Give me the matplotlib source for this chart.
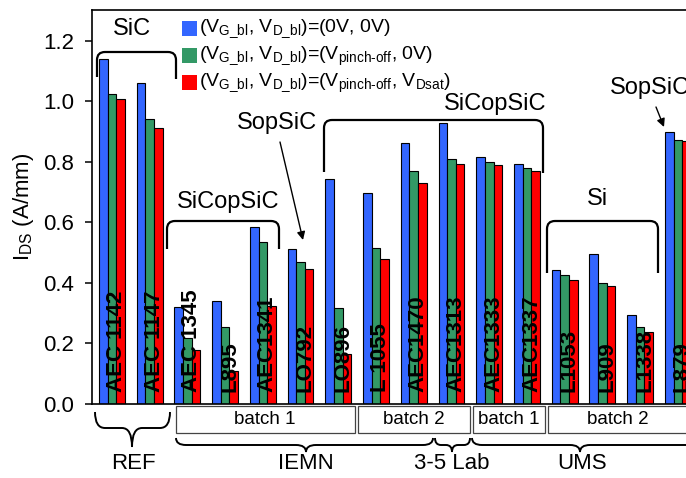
import numpy as np
import matplotlib
matplotlib.use("Agg")
import matplotlib.pyplot as plt
from matplotlib.patches import Rectangle, PathPatch
from matplotlib.path import Path
from matplotlib.transforms import Affine2D
from matplotlib import font_manager

# drain current per device for the three bias conditions
devices = ["AEC 1142", "AEC 1147", "AEC 1345", "L895", "AEC1341", "LO792", "LO896", "L 1055",
           "AEC1470", "AEC1313", "AEC1333", "AEC1337", "L1053", "L909", "L1338", "L879"]
ids_00 = [1.14, 1.06, 0.32, 0.34, 0.586, 0.511, 0.745, 0.698, 0.864, 0.928, 0.815, 0.793,
          0.442, 0.496, 0.294, 0.90]
ids_p0 = [1.025, 0.941, 0.217, 0.253, 0.534, 0.47, 0.316, 0.515, 0.769, 0.811, 0.80, 0.779,
          0.425, 0.40, 0.256, 0.873]
ids_ps = [1.009, 0.911, 0.18, 0.11, 0.324, 0.445, 0.164, 0.479, 0.731, 0.793, 0.79, 0.77,
          0.41, 0.391, 0.239, 0.870]

series_labels = [r"(V$_{\mathrm{G\_bl}}$, V$_{\mathrm{D\_bl}}$)=(0V, 0V)",
                 r"(V$_{\mathrm{G\_bl}}$, V$_{\mathrm{D\_bl}}$)=(V$_{\mathrm{pinch\text{-}off}}$, 0V)",
                 r"(V$_{\mathrm{G\_bl}}$, V$_{\mathrm{D\_bl}}$)=(V$_{\mathrm{pinch\text{-}off}}$, V$_{\mathrm{Dsat}}$)"]
colors = ["#3366FF", "#339966", "#FF0000"]

plt.rcParams["font.family"] = "Liberation Sans"
plt.rcParams["mathtext.fontset"] = "custom"
plt.rcParams["mathtext.rm"] = "Liberation Sans"
plt.rcParams["mathtext.it"] = "Liberation Sans:italic"

names = {f.name for f in font_manager.fontManager.ttflist}
narrow = "Liberation Sans Narrow" if "Liberation Sans Narrow" in names else "Liberation Sans"

fig = plt.figure(figsize=(6.86, 4.78), dpi=100)
ax = fig.add_axes([92 / 686, 74 / 478, 594 / 686, 394 / 478])
# pixel coordinates, origin at the top-left corner of the image
T = Affine2D().scale(1 / 686, -1 / 478).translate(0, 1) + fig.transFigure

w = 0.228
x = np.arange(len(devices))
for k, (vals, c) in enumerate(zip([ids_00, ids_p0, ids_ps], colors)):
    ax.bar(x + (k - 1) * w, vals, w, color=c, edgecolor="black", linewidth=0.8, zorder=2)

for i, name in enumerate(devices):
    ax.text(i + 0.12, 0.04, name, rotation=90, ha="center", va="bottom", fontsize=16,
            fontweight="bold", zorder=3)

ax.set_xlim(-0.528, 15.216)
ax.set_ylim(0, 1.302)
ax.set_yticks(np.arange(0, 1.21, 0.2))
ax.set_yticklabels(["%.1f" % v for v in np.arange(0, 1.21, 0.2)])
ax.set_xticks([])
ax.tick_params(axis="y", direction="out", length=5, width=1.1, labelsize=16, pad=8)
ax.spines["right"].set_visible(False)
for s in ["left", "top", "bottom"]:
    ax.spines[s].set_linewidth(1.2)

fig.text(24, 207, r"I$_{\mathrm{DS}}$ (A/mm)", transform=T, rotation=90, ha="center",
         va="center", fontsize=16)

# legend
for r, (lab, c) in enumerate(zip(series_labels, colors)):
    fig.patches.append(Rectangle((182, 21 + 27 * r), 15, 15, transform=T, facecolor=c,
                                 edgecolor="none"))
    fig.text(199, 32 + 27 * r, lab, transform=T, ha="left", va="baseline", fontsize=14)


def bracket(x0, x1, ytop, yb0, yb1, r=8):
    verts = [(x0, yb0), (x0, ytop + r), (x0, ytop), (x0 + r, ytop), (x1 - r, ytop),
             (x1, ytop), (x1, ytop + r), (x1, yb1)]
    codes = [Path.MOVETO, Path.LINETO, Path.CURVE3, Path.CURVE3, Path.LINETO,
             Path.CURVE3, Path.CURVE3, Path.LINETO]
    fig.patches.append(PathPatch(Path(verts, codes), transform=T, fill=False, lw=1.6,
                                 edgecolor="black"))


def brace(x0, x1, xc, ytop, ymid, ytip, q=10):
    verts = [(x0, ytop), (x0, ymid), (x0 + q, ymid), (xc - q, ymid), (xc, ymid), (xc, ytip),
             (xc, ymid), (xc + q, ymid), (x1 - q, ymid), (x1, ymid), (x1, ytop)]
    codes = [Path.MOVETO, Path.CURVE3, Path.CURVE3, Path.LINETO, Path.CURVE3, Path.CURVE3,
             Path.CURVE3, Path.CURVE3, Path.LINETO, Path.CURVE3, Path.CURVE3]
    fig.patches.append(PathPatch(Path(verts, codes), transform=T, fill=False, lw=1.4,
                                 edgecolor="black"))


# material groups above the bars
bracket(97, 176, 52, 77, 79)
fig.text(132, 29, "SiC", transform=T, ha="center", va="center", fontsize=17)
bracket(167, 279, 221, 249, 249)
fig.text(228, 202, "SiCopSiC", transform=T, ha="center", va="center", fontsize=17)
bracket(324, 543, 120, 172, 173)
fig.text(495, 104, "SiCopSiC", transform=T, ha="center", va="center", fontsize=17)
bracket(547, 658, 221, 273, 273)
fig.text(597, 199, "Si", transform=T, ha="center", va="center", fontsize=17)
fig.text(277, 123, "SopSiC", transform=T, ha="center", va="center", fontsize=17)
fig.text(610, 88, "SopSiC", transform=T, ha="left", va="center", fontsize=17)
arrow = dict(arrowstyle="-|>", color="black", lw=1.0, mutation_scale=12, shrinkA=0, shrinkB=0)
ax.annotate("", xy=(303, 240), xytext=(280, 142), xycoords=T, textcoords=T,
            arrowprops=arrow, annotation_clip=False)
ax.annotate("", xy=(664, 127), xytext=(656, 107), xycoords=T, textcoords=T,
            arrowprops=arrow, annotation_clip=False)

# batches and labs under the axis
for x0, x1, xt, lab in [(176, 355, 265, "batch 1"), (358, 470, 414, "batch 2"),
                        (473, 545, 509, "batch 1"), (548, 720, 618, "batch 2")]:
    fig.patches.append(Rectangle((x0, 406), x1 - x0, 27, transform=T, fill=False, lw=0.9,
                                 edgecolor="#444444"))
    fig.text(xt, 420, lab, transform=T, ha="center", va="center", fontsize=13.5, family=narrow)

brace(95, 170, 132, 412, 428, 447)
brace(176, 433, 306, 438, 445, 452)
brace(435, 470, 452, 438, 445, 452, q=6)
brace(472, 760, 580, 438, 445, 452)
for xt, lab in [(133, "REF"), (306, "IEMN"), (452, "3-5 Lab"), (582, "UMS")]:
    fig.text(xt, 464, lab, transform=T, ha="center", va="center", fontsize=16)

fig.savefig("out.png", dpi=100)
